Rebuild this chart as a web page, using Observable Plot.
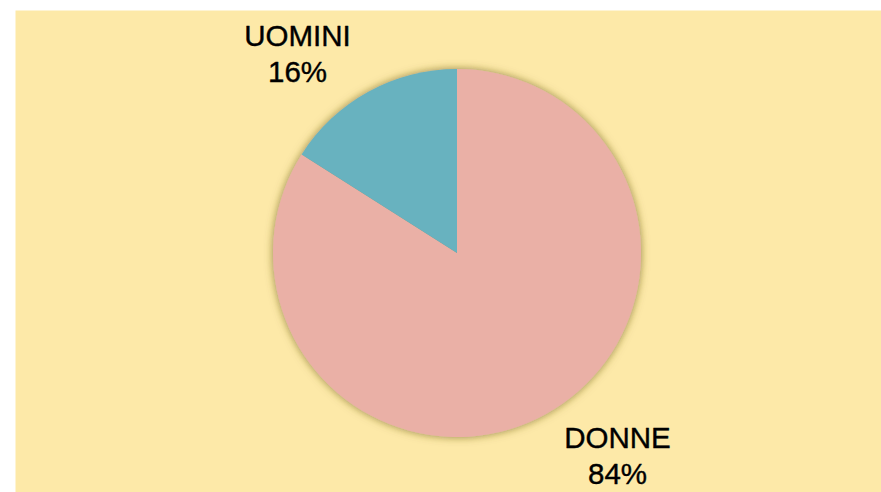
<!DOCTYPE html>
<html>
<head>
<meta charset="utf-8">
<script src="https://cdn.jsdelivr.net/npm/d3@7"></script>
<script src="https://cdn.jsdelivr.net/npm/@observablehq/plot@0.6"></script>
<style>
  html, body { margin: 0; padding: 0; background: #ffffff; }
  svg { display: block; }
</style>
</head>
<body>
<div id="chart"></div>
<script>
const categories = ["DONNE", "UOMINI"];
const values = [84, 16];
const labels = ["DONNE\n84%", "UOMINI\n16%"];
const colors = ["#EAB0A6", "#67B2BF"];

const W = 881, H = 492;
const cx = 457, cy = 253, R = 184;
const bg = "#FDE9A8";

const data = categories.map((c, i) => ({category: c, value: values[i], label: labels[i]}));
const arcs = d3.pie().sort(null).value(d => d.value)(data);

const color = Plot.scale({color: {type: "ordinal", domain: categories, range: colors}});

// label positions outside the pie, by quadrant of slice middle
const labelData = arcs.map(a => {
  const mid = (a.startAngle + a.endAngle) / 2;
  return {
    label: a.data.label,
    x: cx + Math.sign(Math.sin(mid)) * 160,
    y: cy - Math.sign(Math.cos(mid)) * 201
  };
});

const pieMark = () => {
  const g = d3.create("svg:g");
  const defs = g.append("defs");
  const f = defs.append("filter").attr("id", "pieShadow")
    .attr("x", "-20%").attr("y", "-20%").attr("width", "140%").attr("height", "140%");
  f.append("feGaussianBlur").attr("in", "SourceAlpha").attr("stdDeviation", 4.5).attr("result", "blur");
  f.append("feFlood").attr("flood-color", "#6a5a18").attr("flood-opacity", 0.7);
  f.append("feComposite").attr("in2", "blur").attr("operator", "in").attr("result", "shadow");
  const m = f.append("feMerge");
  m.append("feMergeNode").attr("in", "shadow");
  m.append("feMergeNode").attr("in", "SourceGraphic");
  const arc = d3.arc().innerRadius(0).outerRadius(R);
  g.append("g")
    .attr("transform", `translate(${cx},${cy})`)
    .attr("filter", "url(#pieShadow)")
    .selectAll("path")
    .data(arcs)
    .join("path")
    .attr("d", arc)
    .attr("fill", d => color.apply(d.data.category));
  return g.node();
};

const plot = Plot.plot({
  width: W,
  height: H,
  marginLeft: 15,
  marginTop: 10,
  marginRight: 0,
  marginBottom: 0,
  x: {type: "identity", axis: null},
  y: {type: "identity", axis: null},
  style: {background: "#ffffff", overflow: "visible"},
  marks: [
    Plot.frame({fill: bg, stroke: null}),
    pieMark,
    Plot.text(labelData, {
      x: "x",
      y: "y",
      text: "label",
      fontSize: 29.5,
      fontFamily: "Liberation Sans, Arial, sans-serif",
      lineHeight: 1.24,
      fill: "#000000",
      stroke: "#000000",
      strokeWidth: 0.4,
      textAnchor: "middle"
    })
  ]
});

document.getElementById("chart").appendChild(plot);
</script>
</body>
</html>
